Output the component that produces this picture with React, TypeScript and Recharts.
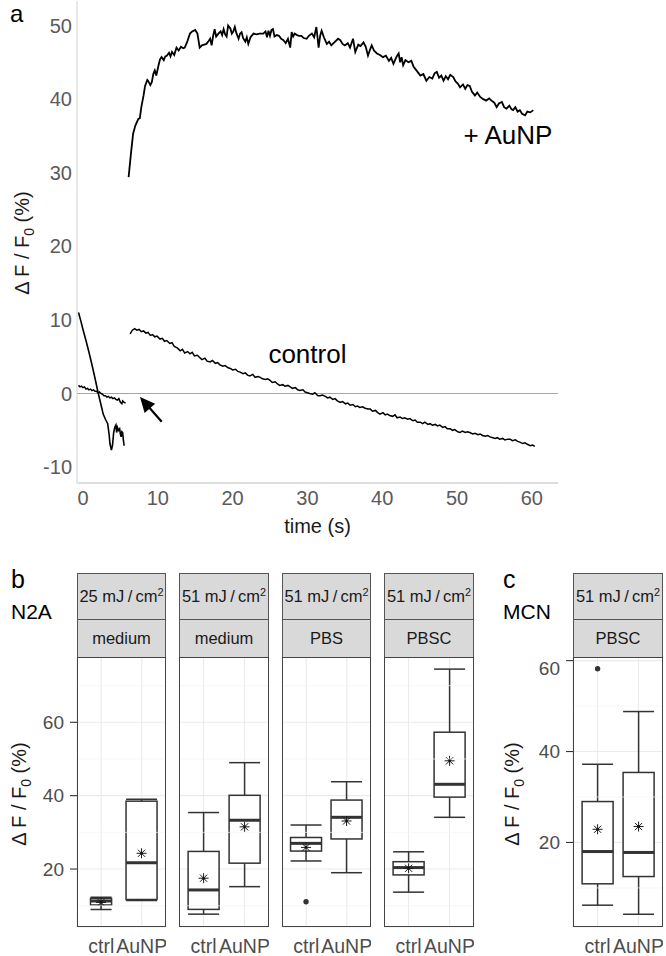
import React from 'react';
import {
  LineChart, Line, XAxis, YAxis, ReferenceLine, ReferenceDot,
  ComposedChart, Bar, CartesianGrid, Label,
} from 'recharts';

const FONT = '"Liberation Sans", Arial, Helvetica, sans-serif';

// ---------------- Panel a: time traces (time s, ΔF/F0 %) ----------------
const aunpBefore: [number, number][] = [
  [-0.6, 11.0], [-0.3, 9.9], [0.0, 8.7], [0.4, 7.2], [0.8, 5.6], [1.2, 3.9], [1.6, 2.1],
  [2.0, 0.2], [2.4, -1.5], [2.7, -2.8], [3.0, -3.5], [3.3, -4.1], [3.5, -5.6], [3.6, -6.8],
  [3.8, -7.7], [3.95, -7.0], [4.1, -5.3], [4.25, -4.6], [4.4, -4.3], [4.5, -5.3], [4.6, -4.6],
  [4.75, -5.0], [4.9, -4.8], [5.0, -5.5], [5.1, -5.9], [5.2, -5.2], [5.3, -5.3], [5.4, -6.3], [5.5, -7.1],
];

const aunpAfter: [number, number][] = [
  [6.1, 29.4], [6.4, 32.5], [6.7, 35.3], [7.0, 36.4], [7.4, 37.3], [7.6, 37.4], [7.8, 38.9],
  [8.1, 40.5], [8.3, 41.8], [8.6, 42.6], [8.7, 42.5], [9.0, 41.9], [9.2, 42.3], [9.4, 43.4],
  [9.6, 43.9], [9.8, 43.2], [10.1, 44.6], [10.3, 45.4], [10.5, 45.7], [10.8, 45.3], [11.0, 45.8],
  [11.2, 45.9], [11.5, 46.3], [11.7, 45.8], [11.9, 46.4], [12.2, 46.0], [12.5, 47.0], [12.8, 46.6],
  [13.1, 47.1], [13.4, 46.9], [13.6, 47.0], [13.9, 47.7], [14.3, 48.9], [14.6, 49.2], [15.0, 49.4],
  [15.3, 48.9], [15.6, 47.0], [15.9, 47.3], [16.2, 47.4], [16.5, 47.5], [16.8, 47.9], [17.0, 48.2],
  [17.2, 47.3], [17.4, 48.6], [17.6, 49.5], [17.8, 48.5], [18.1, 48.9], [18.4, 49.2], [18.6, 48.7],
  [18.8, 49.5], [19.0, 48.8], [19.2, 48.5], [19.4, 50.0], [19.7, 49.6], [19.9, 48.9], [20.1, 49.2],
  [20.3, 49.8], [20.5, 49.0], [20.8, 48.2], [21.0, 48.9], [21.2, 49.1], [21.4, 48.3], [21.7, 47.8],
  [21.9, 48.4], [22.1, 47.5], [22.4, 48.4], [22.8, 48.9], [23.2, 48.8], [23.6, 48.9], [24.1, 48.9],
  [24.4, 49.2], [24.6, 48.4], [24.8, 49.3], [25.0, 48.6], [25.2, 49.4], [25.4, 49.5], [25.6, 48.5],
  [25.9, 48.7], [26.2, 48.6], [26.5, 48.2], [26.8, 48.0], [27.1, 47.6], [27.4, 48.2], [27.7, 47.0],
  [27.9, 49.1], [28.1, 48.5], [28.3, 48.9], [28.6, 48.7], [28.9, 48.6], [29.2, 48.6], [29.5, 48.3],
  [29.9, 48.2], [30.2, 48.6], [30.6, 48.9], [30.9, 48.4], [31.2, 49.8], [31.5, 47.0], [31.7, 48.6],
  [31.9, 49.3], [32.2, 48.4], [32.6, 47.5], [32.9, 47.8], [33.2, 47.3], [33.6, 47.7], [34.1, 48.2],
  [34.4, 48.0], [34.7, 47.5], [35.0, 47.3], [35.4, 47.6], [35.7, 47.0], [36.1, 48.2], [36.4, 46.4],
  [36.8, 47.4], [37.1, 47.2], [37.5, 47.7], [37.8, 47.1], [38.1, 45.9], [38.4, 46.8], [38.6, 47.3],
  [38.9, 46.6], [39.3, 46.2], [39.7, 46.0], [40.1, 45.7], [40.5, 45.9], [40.9, 45.2], [41.2, 45.6],
  [41.5, 44.8], [41.8, 45.5], [42.0, 45.9], [42.2, 46.2], [42.4, 45.0], [42.6, 45.7], [42.8, 44.6],
  [43.1, 45.3], [43.5, 45.0], [43.9, 45.2], [44.2, 44.4], [44.5, 44.0], [44.8, 43.6], [45.1, 43.2],
  [45.5, 43.4], [45.9, 42.5], [46.3, 43.0], [46.7, 42.8], [47.0, 43.5], [47.3, 43.7], [47.6, 42.9],
  [47.9, 43.2], [48.2, 42.5], [48.5, 43.1], [48.8, 42.7], [49.1, 43.3], [49.5, 43.0], [49.8, 42.4],
  [50.1, 42.1], [50.4, 41.6], [50.8, 42.0], [51.1, 41.4], [51.4, 41.9], [51.7, 41.8], [52.0, 41.0],
  [52.4, 40.5], [52.7, 40.9], [53.1, 40.3], [53.5, 40.0], [53.9, 39.8], [54.3, 40.1], [54.6, 39.8],
  [55.0, 39.5], [55.3, 38.9], [55.6, 39.4], [56.0, 39.6], [56.3, 38.9], [56.6, 38.7], [57.0, 39.1],
  [57.3, 38.6], [57.5, 38.5], [57.8, 38.9], [58.1, 38.3], [58.4, 38.5], [58.7, 38.0], [59.1, 37.8],
  [59.4, 38.3], [59.8, 38.2], [60.2, 38.5],
];

const controlBefore: [number, number][] = [
  [-0.6, 1.1], [-0.4, 0.9], [-0.2, 1.0], [0.0, 0.8], [0.2, 0.9], [0.4, 0.6], [0.6, 0.7], [0.8, 0.5],
  [1.0, 0.6], [1.2, 0.4], [1.4, 0.5], [1.6, 0.3], [1.8, 0.3], [2.0, 0.1], [2.2, 0.2], [2.4, 0.0],
  [2.6, -0.1], [2.8, -0.3], [3.0, -0.3], [3.2, -0.5], [3.4, -0.4], [3.6, -0.6], [3.8, -0.5],
  [4.0, -0.7], [4.2, -0.6], [4.4, -0.8], [4.6, -0.9], [4.8, -0.7], [5.0, -1.2], [5.2, -1.4],
  [5.3, -1.0], [5.5, -1.2], [5.7, -1.3],
];

const controlAfter: [number, number][] = [
  [6.3, 8.1], [6.6, 8.6], [6.9, 8.8], [7.2, 8.6], [7.5, 8.7], [7.8, 8.4], [8.1, 8.5], [8.4, 8.2],
  [8.7, 8.3], [9.0, 7.9], [9.3, 8.0], [9.6, 7.7], [9.9, 7.8], [10.3, 7.4], [10.6, 7.5], [10.9, 7.1],
  [11.2, 7.2], [11.6, 6.8], [11.9, 6.9], [12.2, 6.4], [12.6, 6.2], [13.0, 5.8], [13.3, 6.0], [13.6, 5.5],
  [14.0, 5.7], [14.3, 5.4], [14.6, 5.6], [14.9, 5.1], [15.3, 5.2], [15.6, 4.9], [15.9, 4.6], [16.3, 4.8],
  [16.6, 4.4], [17.0, 4.3], [17.3, 4.5], [17.7, 4.1], [18.0, 4.2], [18.3, 3.9], [18.7, 3.7], [19.0, 3.8],
  [19.4, 3.5], [19.7, 3.4], [20.0, 3.2], [20.4, 3.3], [20.7, 3.0], [21.0, 2.9], [21.4, 2.7], [21.7, 2.8],
  [22.0, 2.5], [22.3, 2.4], [22.7, 2.6], [23.0, 2.2], [23.4, 2.3], [23.7, 2.2], [24.0, 2.0], [24.4, 1.9],
  [24.7, 2.0], [25.0, 1.8], [25.3, 1.5], [25.7, 1.6], [26.0, 1.3], [26.3, 1.1], [26.7, 1.2], [27.0, 1.0],
  [27.4, 1.1], [27.7, 0.9], [28.0, 0.7], [28.4, 0.8], [28.7, 0.5], [29.0, 0.4], [29.4, 0.5], [29.7, 0.2],
  [30.0, 0.1], [30.3, 0.0], [30.7, -0.1], [31.0, 0.1], [31.4, -0.3], [31.7, -0.3], [32.0, -0.2],
  [32.4, -0.4], [32.7, -0.6], [33.0, -0.5], [33.4, -0.8], [33.7, -0.7], [34.0, -1.0], [34.4, -1.2],
  [34.7, -1.1], [35.1, -1.4], [35.4, -1.3], [35.7, -1.6], [36.1, -1.5], [36.4, -1.8], [36.7, -1.7],
  [37.0, -1.9], [37.4, -1.8], [37.7, -2.0], [38.1, -2.1], [38.4, -2.1], [38.7, -2.4], [39.1, -2.3],
  [39.4, -2.6], [39.7, -2.8], [40.1, -2.6], [40.4, -2.9], [40.7, -2.8], [41.0, -3.0], [41.4, -3.1],
  [41.7, -2.9], [42.0, -3.3], [42.4, -3.2], [42.7, -3.4], [43.0, -3.3], [43.4, -3.5], [43.7, -3.4],
  [44.1, -3.7], [44.4, -3.6], [44.7, -3.9], [45.1, -3.9], [45.4, -4.1], [45.7, -3.9], [46.1, -4.2],
  [46.4, -4.1], [46.7, -4.3], [47.1, -4.2], [47.4, -4.4], [47.7, -4.3], [48.1, -4.6], [48.4, -4.5],
  [48.7, -4.8], [49.1, -4.8], [49.4, -5.0], [49.7, -4.9], [50.1, -5.2], [50.4, -5.3], [50.7, -5.1],
  [51.1, -5.3], [51.4, -5.2], [51.7, -5.3], [52.1, -5.5], [52.4, -5.4], [52.8, -5.6], [53.1, -5.5],
  [53.4, -5.7], [53.8, -5.8], [54.1, -5.7], [54.4, -5.9], [54.8, -6.0], [55.1, -6.1], [55.4, -6.0],
  [55.7, -6.2], [56.1, -6.1], [56.4, -6.3], [56.8, -6.2], [57.1, -6.2], [57.4, -6.4], [57.8, -6.3],
  [58.1, -6.5], [58.4, -6.6], [58.8, -6.8], [59.1, -6.7], [59.4, -6.9], [59.8, -7.1], [60.1, -7.0],
  [60.4, -7.2],
];

const timeTicks = [0, 10, 20, 30, 40, 50, 60];
const traceTicks = [-10, 0, 10, 20, 30, 40, 50];

// ---------------- Panels b / c: box statistics ----------------
const n2aDose = ['25', '51', '51', '51'];
const n2aMedium = ['medium', 'medium', 'PBS', 'PBSC'];
const mcnDose = ['51'];
const mcnMedium = ['PBSC'];

type Box = { g: string; low: number; q1: number; med: number; q3: number; high: number; mean: number; out: number[] };

const n2a25Medium: Box[] = [
  { g: 'ctrl', low: 9.0, q1: 10.2, med: 11.3, q3: 12.0, high: 12.3, mean: 10.9, out: [] },
  { g: 'AuNP', low: 11.4, q1: 11.7, med: 21.7, q3: 38.5, high: 39.0, mean: 24.3, out: [] },
];
const n2a51Medium: Box[] = [
  { g: 'ctrl', low: 7.7, q1: 9.0, med: 14.3, q3: 24.8, high: 35.4, mean: 17.5, out: [] },
  { g: 'AuNP', low: 15.2, q1: 21.6, med: 33.3, q3: 40.1, high: 49.0, mean: 31.5, out: [] },
];
const n2a51PBS: Box[] = [
  { g: 'ctrl', low: 22.2, q1: 24.9, med: 27.0, q3: 28.6, high: 32.0, mean: 25.9, out: [11.1] },
  { g: 'AuNP', low: 19.0, q1: 28.2, med: 34.1, q3: 38.8, high: 43.8, mean: 33.1, out: [] },
];
const n2a51PBSC: Box[] = [
  { g: 'ctrl', low: 13.7, q1: 18.4, med: 20.4, q3: 22.0, high: 24.7, mean: 20.2, out: [] },
  { g: 'AuNP', low: 34.1, q1: 39.6, med: 43.1, q3: 57.3, high: 74.5, mean: 49.5, out: [] },
];
const mcn51PBSC: Box[] = [
  { g: 'ctrl', low: 6.2, q1: 10.9, med: 18.0, q3: 29.0, high: 37.2, mean: 22.9, out: [58.2] },
  { g: 'AuNP', low: 4.2, q1: 12.5, med: 17.8, q3: 35.4, high: 48.8, mean: 23.5, out: [] },
];

const n2aTicks = [20, 40, 60];
const n2aMinor = [10, 30, 50, 70];
const mcnTicks = [20, 40, 60];
const mcnMinor = [10, 30, 50];

// ---------------- styling ----------------
const BOX_W = 31;
const INK = '#333333';

const yTitle = (x: number, y: number, size = 20) => (
  <text x={x} y={y} transform={`rotate(-90 ${x} ${y})`} textAnchor="middle"
    fontSize={size} fontFamily={FONT} fill="#1A1A1A">
    {'\u0394 F / F'}<tspan fontSize={size * 0.7} dy={size * 0.25}>0</tspan>
    <tspan dy={-size * 0.25}>{' (%)'}</tspan>
  </text>
);

const BoxShape = (props: any) => {
  const { x, y, width, height } = props;
  const p = props.payload;
  if (!p || x == null || y == null || height == null) return null;
  const top = Math.min(y, y + height);
  const bot = Math.max(y, y + height);
  const span = p.hi - p.lo;
  const py = (v: number) => bot - ((v - p.lo) / span) * (bot - top);
  const cx = x + width / 2;
  const half = (BOX_W * p.wf) / 2;
  const yl = py(p.low), yh = py(p.high), yq1 = py(p.q1), yq3 = py(p.q3), ym = py(p.med), ymn = py(p.mean);
  const r = 5;
  const d = r * 0.72;
  return (
    <g>
      <line x1={cx} x2={cx} y1={yh} y2={yl} stroke={INK} strokeWidth={1.5} />
      <line x1={cx - half} x2={cx + half} y1={yh} y2={yh} stroke={INK} strokeWidth={1.5} />
      <line x1={cx - half} x2={cx + half} y1={yl} y2={yl} stroke={INK} strokeWidth={1.5} />
      <rect x={cx - half} y={yq3} width={2 * half} height={Math.max(0, yq1 - yq3)} fill="#ffffff" stroke={INK} strokeWidth={1.5} />
      <line x1={cx - half} x2={cx + half} y1={ym} y2={ym} stroke={INK} strokeWidth={3} />
      {p.out.map((o: number, i: number) => (
        <circle key={i} cx={cx} cy={py(o)} r={2.7} fill={INK} />
      ))}
      <g stroke="#1A1A1A" strokeWidth={1}>
        <line x1={cx - r} x2={cx + r} y1={ymn} y2={ymn} />
        <line x1={cx} x2={cx} y1={ymn - r} y2={ymn + r} />
        <line x1={cx - d} x2={cx + d} y1={ymn - d} y2={ymn + d} />
        <line x1={cx - d} x2={cx + d} y1={ymn + d} y2={ymn - d} />
      </g>
      <circle cx={cx} cy={ymn} r={1.3} fill="#111" />
    </g>
  );
};

const PANEL_TOP = 657;
const PANEL_H = 270;

function Facet(props: {
  boxes: Box[]; left: number; width: number; domain: [number, number];
  ticks: number[]; minor: number[]; axisW: number; titleX?: number; narrow?: Record<string, number>;
}) {
  const { boxes, left, width, domain, ticks, minor, axisW, titleX, narrow } = props;
  const showY = axisW > 0;
  const rows = boxes.map((b) => ({
    ...b,
    lo: Math.min(b.low, ...b.out),
    hi: Math.max(b.high, ...b.out),
    wf: (narrow && narrow[b.g]) || 1,
  }));
  return (
    <div style={{ position: 'absolute', left: left - axisW, top: PANEL_TOP }}>
      <ComposedChart width={axisW + width} height={PANEL_H + 30} data={rows}
        margin={{ top: 0, right: 0, bottom: 0, left: 0 }}>
        <CartesianGrid stroke="#EBEBEB" strokeWidth={1.1} />
        {minor.map((v) => (
          <ReferenceLine key={v} y={v} stroke="#F3F3F3" strokeWidth={0.7} />
        ))}
        <XAxis dataKey="g" type="category" padding={{ left: 4, right: 4 }} height={30} interval={0}
          tickLine={false} axisLine={false} tickSize={6} tickMargin={6}
          tick={{ fill: '#4D4D4D', fontSize: 19.5, fontFamily: FONT }} />
        <YAxis type="number" domain={domain} ticks={ticks} allowDataOverflow width={axisW} hide={!showY}
          tickSize={7} tickMargin={6} tickLine={{ stroke: INK, strokeWidth: 1.1 }} axisLine={false}
          tick={{ fill: '#4D4D4D', fontSize: 19, fontFamily: FONT }}>
          {showY ? <Label content={() => yTitle(titleX || 19, PANEL_H / 2 + 2)} /> : null}
        </YAxis>
        <Bar dataKey={(d: any) => [d.lo, d.hi]} shape={BoxShape} isAnimationActive={false} />
      </ComposedChart>
    </div>
  );
}

function Strips(props: { left: number; width: number; dose: string; medium: string }) {
  const { left, width, dose, medium } = props;
  const base: React.CSSProperties = {
    position: 'absolute', left, width, boxSizing: 'border-box', border: '1px solid #555',
    background: '#D9D9D9', display: 'flex', alignItems: 'center', justifyContent: 'center',
    fontFamily: FONT, fontSize: 16.5, color: '#1A1A1A', whiteSpace: 'nowrap',
  };
  return (
    <>
      <div style={{ ...base, top: 573, height: 47 }}>
        <span>
          {dose} mJ{'\u2009'}/{'\u2009'}cm
          <sup style={{ fontSize: '0.66em', lineHeight: 0, verticalAlign: 'super' }}>2</sup>
        </span>
      </div>
      <div style={{ ...base, top: 619, height: 39 }}>{medium}</div>
      <div style={{
        position: 'absolute', left, width, top: PANEL_TOP, height: PANEL_H, boxSizing: 'border-box',
        border: '1px solid #444', pointerEvents: 'none',
      }} />
    </>
  );
}

const toPts = (arr: [number, number][]) => arr.map(([t, v]) => ({ t, v }));

const Arrow = (props: any) => {
  const { cx, cy } = props;
  if (cx == null) return null;
  const tx = cx + 21.7, ty = cy + 24.7;
  const len = Math.hypot(tx - cx, ty - cy);
  const ux = (tx - cx) / len, uy = (ty - cy) / len;
  const hl = 15, hw = 7;
  const bx = cx + ux * hl, by = cy + uy * hl;
  const px = -uy, pyy = ux;
  return (
    <g>
      <line x1={bx - ux * 2} y1={by - uy * 2} x2={tx} y2={ty} stroke="#000" strokeWidth={2.2} />
      <polygon points={`${cx},${cy} ${bx + px * hw},${by + pyy * hw} ${bx - px * hw},${by - pyy * hw}`} fill="#000" />
    </g>
  );
};

const textMark = (label: string) => (props: any) => {
  const { cx, cy } = props;
  if (cx == null) return null;
  return (
    <text x={cx} y={cy} textAnchor="middle" fontSize={26} fontFamily={FONT} fill="#000">{label}</text>
  );
};

const aTick = { fill: '#5A5A5A', fontSize: 20, fontFamily: FONT };

export default function App() {
  return (
    <div style={{ position: 'absolute', left: 0, top: 0, width: 666, height: 956, overflow: 'hidden', background: '#fff' }}>
      <div style={{ position: 'absolute', left: 0, top: 0 }}>
        <LineChart width={666} height={540} margin={{ top: 1, right: 108, bottom: 0, left: 17 }}>
          <XAxis type="number" dataKey="t" domain={[-0.8, 63.5]} ticks={timeTicks} allowDataOverflow height={57}
            tickLine={false} tickSize={4} tickMargin={4} axisLine={{ stroke: '#BDBDBD', strokeWidth: 1.2 }} tick={aTick}>
            <Label value="time (s)" position="insideBottom" offset={7} fill="#1A1A1A" fontSize={20} fontFamily={FONT} />
          </XAxis>
          <YAxis type="number" dataKey="v" domain={[-12.16, 53.33]} ticks={traceTicks} allowDataOverflow width={60}
            tickLine={false} tickSize={3} tickMargin={2} axisLine={{ stroke: '#D9D9D9', strokeWidth: 1.2 }} tick={aTick}>
            <Label content={() => yTitle(29, 243)} />
          </YAxis>
          <ReferenceLine y={0} stroke="#A6A6A6" strokeWidth={1.2} />
          <Line data={toPts(controlBefore)} dataKey="v" stroke="#000" strokeWidth={1.5} dot={false} isAnimationActive={false} />
          <Line data={toPts(aunpBefore)} dataKey="v" stroke="#000" strokeWidth={1.6} dot={false} isAnimationActive={false} />
          <Line data={toPts(controlAfter)} dataKey="v" stroke="#000" strokeWidth={1.5} dot={false} isAnimationActive={false} />
          <Line data={toPts(aunpAfter)} dataKey="v" stroke="#000" strokeWidth={1.8} dot={false} isAnimationActive={false} />
          <ReferenceDot x={7.62} y={-0.48} shape={Arrow} />
          <ReferenceDot x={56.8} y={33.9} shape={textMark('+ AuNP')} />
          <ReferenceDot x={30.0} y={4.1} shape={textMark('control')} />
        </LineChart>
      </div>

      <Facet boxes={n2a25Medium} left={77} width={89} domain={[4.2, 77.8]} ticks={n2aTicks} minor={n2aMinor}
        axisW={70} titleX={19} narrow={{ ctrl: 0.68 }} />
      <Facet boxes={n2a51Medium} left={179} width={90} domain={[4.2, 77.8]} ticks={n2aTicks} minor={n2aMinor} axisW={0} />
      <Facet boxes={n2a51PBS} left={282} width={89} domain={[4.2, 77.8]} ticks={n2aTicks} minor={n2aMinor} axisW={0} />
      <Facet boxes={n2a51PBSC} left={384} width={90} domain={[4.2, 77.8]} ticks={n2aTicks} minor={n2aMinor} axisW={0} />
      <Facet boxes={mcn51PBSC} left={573} width={90} domain={[1.4, 60.8]} ticks={mcnTicks} minor={mcnMinor}
        axisW={78} titleX={23.5} />

      <Strips left={77} width={89} dose={n2aDose[0]} medium={n2aMedium[0]} />
      <Strips left={179} width={90} dose={n2aDose[1]} medium={n2aMedium[1]} />
      <Strips left={282} width={89} dose={n2aDose[2]} medium={n2aMedium[2]} />
      <Strips left={384} width={90} dose={n2aDose[3]} medium={n2aMedium[3]} />
      <Strips left={573} width={90} dose={mcnDose[0]} medium={mcnMedium[0]} />

      <svg width={666} height={956} style={{ position: 'absolute', left: 0, top: 0, pointerEvents: 'none' }}>
        <text x={10} y={22} fontSize={24} fontFamily={FONT} fill="#000">a</text>
        <text x={11} y={588} fontSize={25} fontFamily={FONT} fill="#000">b</text>
        <text x={11} y={619} fontSize={21} fontFamily={FONT} fill="#000">N2A</text>
        <text x={503} y={588} fontSize={25} fontFamily={FONT} fill="#000">c</text>
        <text x={503} y={619} fontSize={21} fontFamily={FONT} fill="#000">MCN</text>
      </svg>
    </div>
  );
}
